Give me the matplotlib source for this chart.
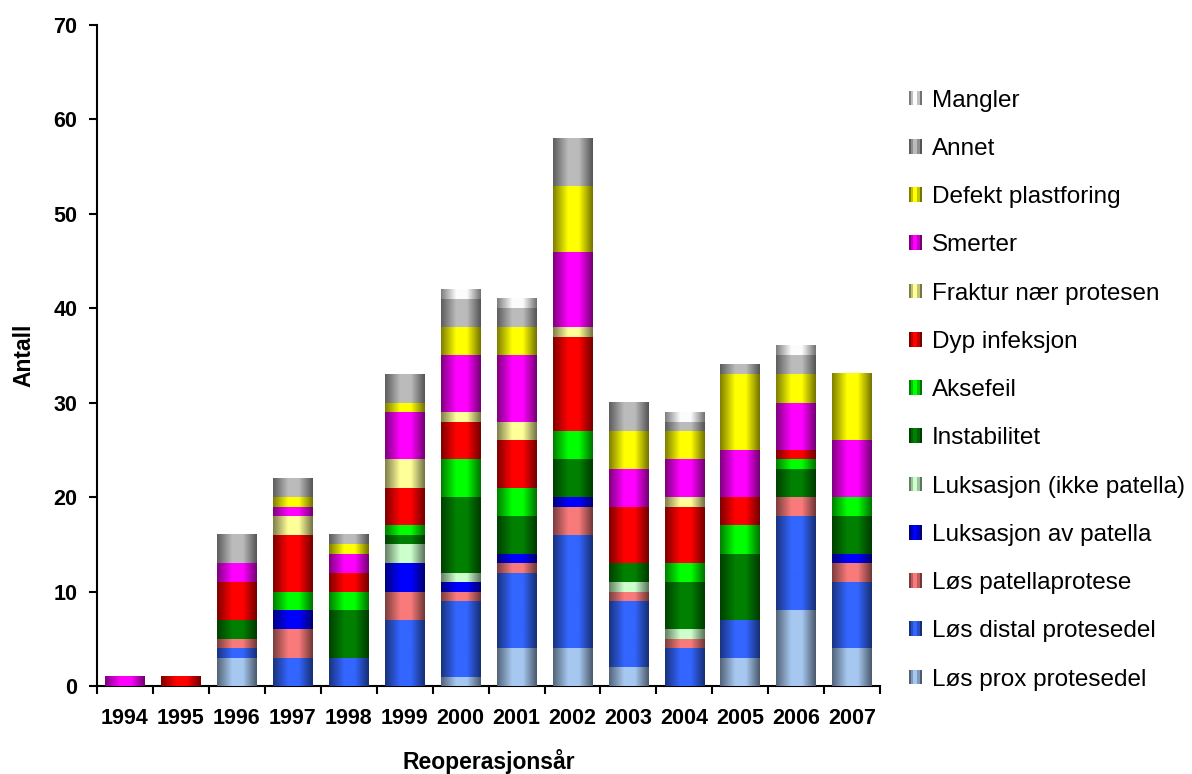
import matplotlib
matplotlib.use("Agg")
import matplotlib.pyplot as plt
import matplotlib.colors as mcolors
from matplotlib.patches import Rectangle
from matplotlib.legend_handler import HandlerBase
from matplotlib.container import BarContainer
import numpy as np

plt.rcParams['font.family'] = ['Liberation Sans', 'DejaVu Sans']

# data
years = ['1994', '1995', '1996', '1997', '1998', '1999', '2000',
         '2001', '2002', '2003', '2004', '2005', '2006', '2007']

los_prox = [0, 0, 3, 0, 0, 0, 1, 4, 4, 2, 0, 3, 8, 4]
los_distal = [0, 0, 1, 3, 3, 7, 8, 8, 12, 7, 4, 4, 10, 7]
los_patella = [0, 0, 1, 3, 0, 3, 1, 1, 3, 1, 1, 0, 2, 2]
luks_patella = [0, 0, 0, 2, 0, 3, 1, 1, 1, 0, 0, 0, 0, 1]
luks_ikke = [0, 0, 0, 0, 0, 2, 1, 0, 0, 1, 1, 0, 0, 0]
instabilitet = [0, 0, 2, 0, 5, 1, 8, 4, 4, 2, 5, 7, 3, 4]
aksefeil = [0, 0, 0, 2, 2, 1, 4, 3, 3, 0, 2, 3, 1, 2]
dyp_infeksjon = [0, 1, 4, 6, 2, 4, 4, 5, 10, 6, 6, 3, 1, 0]
fraktur = [0, 0, 0, 2, 0, 3, 1, 2, 1, 0, 1, 0, 0, 0]
smerter = [1, 0, 2, 1, 2, 5, 6, 7, 8, 4, 4, 5, 5, 6]
defekt = [0, 0, 0, 1, 1, 1, 3, 3, 7, 4, 3, 8, 3, 7]
annet = [0, 0, 3, 2, 1, 3, 3, 2, 5, 3, 1, 1, 2, 0]
mangler = [0, 0, 0, 0, 0, 0, 1, 1, 0, 0, 1, 0, 1, 0]

series = [
    ('Løs prox protesedel', los_prox, '#a6c8f0'),
    ('Løs distal protesedel', los_distal, '#3366ff'),
    ('Løs patellaprotese', los_patella, '#f87a7a'),
    ('Luksasjon av patella', luks_patella, '#0000ff'),
    ('Luksasjon (ikke patella)', luks_ikke, '#ccffcc'),
    ('Instabilitet', instabilitet, '#008000'),
    ('Aksefeil', aksefeil, '#00ff00'),
    ('Dyp infeksjon', dyp_infeksjon, '#ff0000'),
    ('Fraktur nær protesen', fraktur, '#ffff99'),
    ('Smerter', smerter, '#ff00ff'),
    ('Defekt plastforing', defekt, '#ffff00'),
    ('Annet', annet, '#bbbbbb'),
    ('Mangler', mangler, '#fcfcfc'),
]

# horizontal shading: dark edges, bright middle (excel "cylinder" look)
def shade_profile(n):
    t = np.linspace(0, 1, n)
    return np.interp(t, [0, 0.38, 0.65, 1], [0.5, 1.0, 1.0, 0.45])


class GradHandler(HandlerBase):
    # legend key drawn as a few shaded stripes
    def create_artists(self, legend, orig_handle, xdescent, ydescent,
                       width, height, fontsize, trans):
        rgb = np.array(orig_handle.patches[0].get_facecolor()[:3])
        n = 6
        w = width / n
        out = []
        for i, s in enumerate(shade_profile(n)):
            r = Rectangle((-xdescent + i * w, -ydescent), w + 0.3, height,
                          facecolor=rgb * s, linewidth=0, transform=trans)
            out.append(r)
        return out


fig = plt.figure(figsize=(11.92, 7.74), dpi=100)
ax = fig.add_axes([0.0814, 0.1137, 0.657, 0.854])

x = np.arange(len(years))
bottom = np.zeros(len(years))
width = 0.71
shade = shade_profile(80)

handles = []
for label, vals, col in series:
    vals = np.array(vals, dtype=float)
    bars = ax.bar(x, vals, width, bottom=bottom, color=col, label=label,
                  linewidth=0, zorder=2)
    rgb = np.array(mcolors.to_rgb(col))
    grad = (shade[:, None] * rgb[None, :])[None, :, :]
    for b in bars:
        if b.get_height() <= 0:
            continue
        x0, y0 = b.get_x(), b.get_y()
        ax.imshow(grad, extent=(x0, x0 + b.get_width(), y0, y0 + b.get_height()),
                  aspect='auto', interpolation='bilinear', zorder=3)
    handles.append(bars)
    bottom += vals

ax.set_xlim(-0.5, len(years) - 0.5)
ax.set_ylim(0, 70)

ax.spines['top'].set_visible(False)
ax.spines['right'].set_visible(False)
ax.spines['left'].set_linewidth(1.5)
ax.spines['bottom'].set_linewidth(1.5)

ax.set_yticks(np.arange(0, 71, 10))
ax.set_xticks(x)
ax.set_xticklabels(years)
ax.set_xticks(np.arange(-0.5, len(years)), minor=True)
ax.tick_params(axis='x', which='major', length=0, pad=16)
ax.tick_params(axis='x', which='minor', length=6, width=1.5, direction='out')
ax.tick_params(axis='y', length=6, width=1.5, direction='out', pad=8)
for lbl in ax.get_xticklabels() + ax.get_yticklabels():
    lbl.set_fontweight('bold')
    lbl.set_fontsize(15.5)

ax.set_xlabel('Reoperasjonsår', fontsize=16.5, fontweight='bold', labelpad=14)
ax.set_ylabel('Antall', fontsize=16.5, fontweight='bold', labelpad=13)

leg = fig.legend(handles[::-1], [s[0] for s in series][::-1],
                 loc='upper left', bbox_to_anchor=(0.752, 0.9),
                 frameon=False, fontsize=17.5, handlelength=0.55, handleheight=0.55,
                 handletextpad=0.4, labelspacing=1.08, borderpad=0,
                 handler_map={BarContainer: GradHandler()})

fig.savefig('out.png', dpi=100)
